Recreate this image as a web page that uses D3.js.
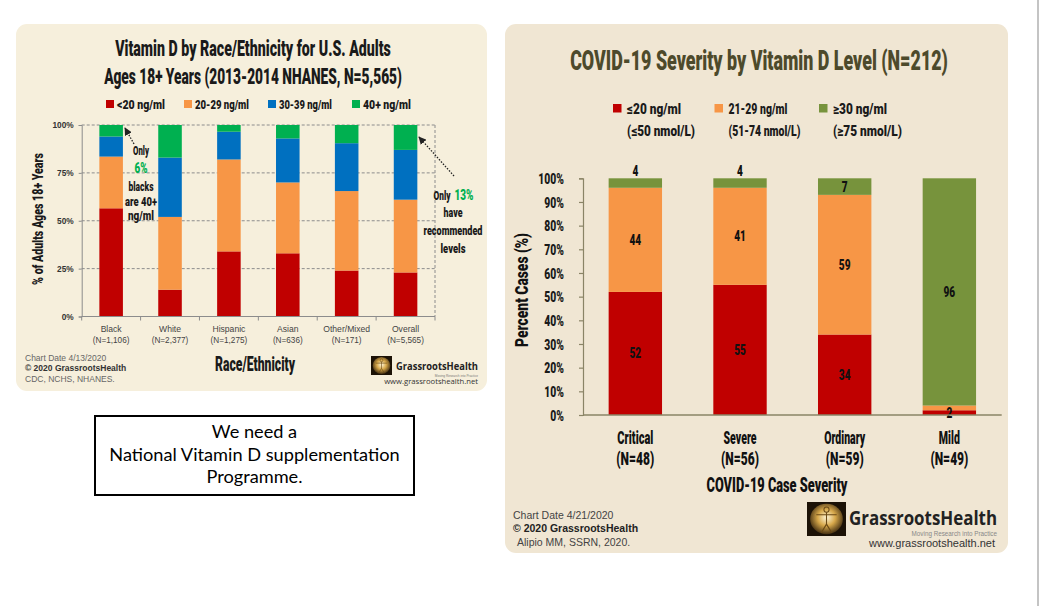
<!DOCTYPE html>
<html><head><meta charset="utf-8">
<script src="https://cdn.jsdelivr.net/npm/d3@7"></script>
<style>
html,body{margin:0;padding:0;background:#fff;}
svg{display:block;}
.cond{font-family:Roboto,"Open Sans",sans-serif;font-weight:900;}
.arial{font-family:"Liberation Sans",Arial,sans-serif;}
</style></head>
<body>
<svg id="c" width="1040" height="606"></svg>
<script>
// ---------- Left chart data ----------
const raceCats = ["Black","White","Hispanic","Asian","Other/Mixed","Overall"];
const raceN = ["(N=1,106)","(N=2,377)","(N=1,275)","(N=636)","(N=171)","(N=5,565)"];
const raceSeriesNames = ["<20 ng/ml","20-29 ng/ml","30-39 ng/ml","40+ ng/ml"];
const raceLt20 =  [56.5, 14, 34, 33, 24, 23];
const race20_29 = [27, 38, 48, 37, 41.5, 38];
const race30_39 = [10.5, 31, 14.5, 23, 25, 26];
const race40p =   [6, 17, 3.5, 7, 9.5, 13];
const raceTicks = [0, 25, 50, 75, 100];
const raceColors = ["#c00000","#f79646","#0070c0","#00b050"];

// ---------- Right chart data ----------
const sevCats = ["Critical","Severe","Ordinary","Mild"];
const sevN = ["(N=48)","(N=56)","(N=59)","(N=49)"];
const sevLe20 = [52, 55, 34, 2];
const sev21_29 = [44, 41, 59, 2];
const sevGe30 = [4, 4, 7, 96];
const sevLegend1 = ["\u226420 ng/ml","21-29 ng/ml","\u226530 ng/ml"];
const sevLegend2 = ["(\u226450 nmol/L)","(51-74 nmol/L)","(\u226575 nmol/L)"];
const sevTicks = [0,10,20,30,40,50,60,70,80,90,100];
const sevColors = ["#c00000","#f79646","#77933c"];

const svg = d3.select("#c");

// condensed-look text: horizontal scale so the text takes a target width
function fit(sel, w, rot){
  const node = sel.node();
  const nat = node.getComputedTextLength();
  const s = w / nat;
  const x = +sel.attr("x") || 0, y = +sel.attr("y") || 0;
  sel.attr("x",0).attr("y",0)
     .attr("transform",`translate(${x},${y})${rot?` rotate(${rot})`:""} scale(${s},1)`);
  return sel;
}
function squeeze(sel, f){
  sel.each(function(){
    const t = d3.select(this);
    const x = +t.attr("x") || 0, y = +t.attr("y") || 0;
    t.attr("x",0).attr("y",0).attr("transform",`translate(${x},${y}) scale(${f},1)`);
  });
  return sel;
}
function ctext(g, x, y, size, txt, anchor, fill){
  return g.append("text").attr("class","cond").attr("x",x).attr("y",y).attr("font-size",size)
    .attr("text-anchor",anchor||"start").attr("fill",fill||"#1a1a1a").text(txt);
}

// thin vertical line at right edge
svg.append("line").attr("x1",1038).attr("x2",1038).attr("y1",0).attr("y2",606)
  .attr("stroke","#c4c4c4").attr("stroke-width",2);

// ================= LEFT PANEL =================
const L = svg.append("g");
L.append("rect").attr("x",16).attr("y",24).attr("width",471).attr("height",367)
  .attr("rx",11).attr("fill","#f6efdc");

fit(ctext(L,253,55.5,22,"Vitamin D by Race/Ethnicity for U.S. Adults","middle"),276);
fit(ctext(L,253,83.5,22,"Ages 18+ Years (2013-2014 NHANES, N=5,565)","middle"),298);

// legend
const legX = [106, 184, 268, 352];
const legW = [48, 54, 53, 48];
raceSeriesNames.forEach((n,i)=>{
  L.append("rect").attr("x",legX[i]).attr("y",100).attr("width",8).attr("height",8).attr("fill",raceColors[i]);
  fit(ctext(L,legX[i]+11,109,13,n),legW[i]);
});

const xL = d3.scaleBand().domain(raceCats).range([81.7,435]).paddingInner(0.6).paddingOuter(0.3);
const yL = d3.scaleLinear().domain([0,100]).range([316.5,125]);

// gridlines
raceTicks.filter(t=>t>0).forEach(t=>{
  L.append("line").attr("x1",81.7).attr("x2",435).attr("y1",yL(t)).attr("y2",yL(t))
    .attr("stroke","#8c8c8c").attr("stroke-width",1).attr("stroke-dasharray","3,2");
});
L.append("line").attr("x1",435).attr("x2",435).attr("y1",yL(100)).attr("y2",yL(0))
  .attr("stroke","#8c8c8c").attr("stroke-width",1).attr("stroke-dasharray","3,2");

// stacked bars
const raceRows = raceCats.map((c,i)=>({cat:c, s0:raceLt20[i], s1:race20_29[i], s2:race30_39[i], s3:race40p[i]}));
const stackL = d3.stack().keys(["s0","s1","s2","s3"])(raceRows);
stackL.forEach((ser,si)=>{
  L.append("g").selectAll("rect").data(ser).join("rect")
    .attr("x",d=>xL(d.data.cat)).attr("width",xL.bandwidth())
    .attr("y",d=>yL(Math.min(d[1],100))).attr("height",d=>yL(d[0])-yL(Math.min(d[1],100)))
    .attr("fill",raceColors[si]);
});

// axes
const yAxL = L.append("g").attr("transform","translate(81.7,0)")
  .call(d3.axisLeft(yL).tickValues(raceTicks).tickFormat(d=>d+"%").tickSize(3).tickPadding(5));
yAxL.select(".domain").attr("stroke","#8c8c8c");
yAxL.selectAll(".tick line").attr("stroke","#8c8c8c");
yAxL.selectAll("text").attr("font-family","Liberation Sans, Arial, sans-serif").attr("font-weight","bold")
  .attr("font-size",8.3).attr("fill","#333");

const xAxL = L.append("g").attr("transform","translate(0,316.5)");
xAxL.append("line").attr("x1",81.7).attr("x2",435).attr("y1",0).attr("y2",0).attr("stroke","#8c8c8c").attr("stroke-width",1.2);
const bL = raceCats.map(c=>xL(c)-xL.step()*xL.paddingInner()/2).concat([435]);
bL[0]=81.7;
bL.forEach(b=>xAxL.append("line").attr("x1",b).attr("x2",b).attr("y1",0).attr("y2",4).attr("stroke","#8c8c8c"));
raceCats.forEach((c,i)=>{
  const cx = xL(c)+xL.bandwidth()/2;
  xAxL.append("text").attr("class","arial").attr("x",cx).attr("y",15.5).attr("text-anchor","middle")
    .attr("font-size",8.6).attr("fill","#444").text(c);
  xAxL.append("text").attr("class","arial").attr("x",cx).attr("y",26.5).attr("text-anchor","middle")
    .attr("font-size",8.2).attr("fill","#444").text(raceN[i]);
});

fit(ctext(L,43,219,15.5,"% of Adults Ages 18+ Years","middle"),132,-90);

fit(ctext(L,255,370.5,19.5,"Race/Ethnicity","middle"),80);

// annotations
fit(ctext(L,141,154.5,12.5,"Only","middle"),16);
fit(ctext(L,141,172.5,15,"6%","middle","#00b050"),13);
fit(ctext(L,141,190.5,12.5,"blacks","middle"),25);
fit(ctext(L,141,205.5,12.5,"are 40+","middle"),32);
fit(ctext(L,141,219.5,12.5,"ng/ml","middle"),26);

fit(ctext(L,433.5,199.5,12.5,"Only"),17);
fit(ctext(L,454.5,199.5,15,"13%","start","#00b050"),19);
fit(ctext(L,453,217,12.5,"have","middle"),19);
fit(ctext(L,453,235,12.5,"recommended","middle"),59);
fit(ctext(L,453,252.5,12.5,"levels","middle"),25);

const defs = svg.append("defs");
defs.append("marker").attr("id","ah").attr("viewBox","0 0 10 10").attr("refX",9).attr("refY",5)
  .attr("markerWidth",6).attr("markerHeight",6).attr("orient","auto")
  .append("path").attr("d","M0,0 L10,5 L0,10 z").attr("fill","#222");
L.append("line").attr("x1",134).attr("y1",144).attr("x2",125).attr("y2",128)
  .attr("stroke","#222").attr("stroke-width",1.3).attr("stroke-dasharray","1.5,1.5").attr("marker-end","url(#ah)");
L.append("line").attr("x1",454).attr("y1",176).attr("x2",419).attr("y2",137)
  .attr("stroke","#222").attr("stroke-width",1.3).attr("stroke-dasharray","1.5,1.5").attr("marker-end","url(#ah)");

// footer left
[["Chart Date 4/13/2020","normal"],["\u00a9 2020 GrassrootsHealth","bold"],["CDC, NCHS, NHANES.","normal"]].forEach((f,i)=>
  L.append("text").attr("class","arial").attr("x",25).attr("y",361+i*10.3).attr("font-size",8.5)
   .attr("font-weight",f[1]).attr("fill",f[1]==="bold"?"#333":"#666").text(f[0]));

// logo helper
const grad = defs.append("radialGradient").attr("id","lg").attr("cx","50%").attr("cy","45%").attr("r","60%");
grad.append("stop").attr("offset","0%").attr("stop-color","#fff6d8");
grad.append("stop").attr("offset","45%").attr("stop-color","#d7a84a");
grad.append("stop").attr("offset","100%").attr("stop-color","#2a1a08");
function logo(g, x, y, w, h){
  g.append("rect").attr("x",x).attr("y",y).attr("width",w).attr("height",h).attr("fill","#1c1206");
  g.append("ellipse").attr("cx",x+w/2).attr("cy",y+h/2).attr("rx",w*0.42).attr("ry",h*0.45).attr("fill","url(#lg)");
  const cx=x+w/2, s=h/40;
  g.append("circle").attr("cx",cx).attr("cy",y+9*s).attr("r",3*s).attr("fill","none").attr("stroke","#6b4a16").attr("stroke-width",1.2*s);
  g.append("path").attr("d",`M${cx},${y+12*s} L${cx},${y+26*s} M${cx-12*s},${y+15*s} L${cx+12*s},${y+15*s} M${cx},${y+26*s} L${cx-6*s},${y+36*s} M${cx},${y+26*s} L${cx+6*s},${y+36*s}`)
    .attr("stroke","#6b4a16").attr("stroke-width",1.3*s).attr("fill","none");
}
function brand(g, x, y, size, w, txt, family, weight, fill){
  const t = g.append("text").attr("x",x).attr("y",y).attr("text-anchor","end").attr("font-family",family)
    .attr("font-weight",weight).attr("font-size",size).attr("fill",fill).text(txt);
  return fit(t, w);
}
logo(L, 371, 356, 21, 19);
brand(L,478,369.5,10.5,82,"GrassrootsHealth","Open Sans, Liberation Sans, sans-serif","bold","#222");
L.append("text").attr("class","arial").attr("x",478).attr("y",376.8).attr("text-anchor","end").attr("font-size",3.2).attr("fill","#777").text("Moving Research into Practice");
brand(L,478,384,8,94,"www.grassrootshealth.net","Open Sans, Liberation Sans, sans-serif","normal","#333");

// ================= TEXT BOX =================
svg.append("rect").attr("x",95).attr("y",416).attr("width",319).attr("height",79)
  .attr("fill","#fff").attr("stroke","#000").attr("stroke-width",2);
["We need a","National Vitamin D supplementation","Programme."].forEach((s,i)=>
  svg.append("text").attr("x",254.5).attr("y",438+i*22.6).attr("text-anchor","middle")
    .attr("font-family","Lato, Open Sans, sans-serif").attr("font-size",18.2).attr("fill","#000").text(s));

// ================= RIGHT PANEL =================
const R = svg.append("g");
R.append("rect").attr("x",505).attr("y",24).attr("width",503).attr("height",529)
  .attr("rx",11).attr("fill","#f0e6d3");

fit(ctext(R,759,70,28,"COVID-19 Severity by Vitamin D Level (N=212)","middle","#4d4a2b"),378);

const legRX = [613, 714.5, 819];
const legW1 = [54, 59, 54], legW2 = [68, 72, 69];
sevLegend1.forEach((n,i)=>{
  R.append("rect").attr("x",legRX[i]).attr("y",104).attr("width",8.5).attr("height",8.5).attr("fill",sevColors[i]);
  fit(ctext(R,legRX[i]+14,113.5,14.5,n),legW1[i]);
  fit(ctext(R,legRX[i]+14,135.5,14.5,sevLegend2[i]),legW2[i]);
});

const xR = d3.scaleBand().domain(sevCats).range([583,1001.7]).paddingInner(0.49).paddingOuter(0.245);
const yR = d3.scaleLinear().domain([0,100]).range([415,178.3]);

const sevRows = sevCats.map((c,i)=>({cat:c, s0:sevLe20[i], s1:sev21_29[i], s2:sevGe30[i]}));
const stackR = d3.stack().keys(["s0","s1","s2"])(sevRows);
stackR.forEach((ser,si)=>{
  R.append("g").selectAll("rect").data(ser).join("rect")
    .attr("x",d=>xR(d.data.cat)).attr("width",xR.bandwidth())
    .attr("y",d=>yR(Math.min(d[1],100))).attr("height",d=>yR(d[0])-yR(Math.min(d[1],100)))
    .attr("fill",sevColors[si]);
});
// data labels
stackR.forEach((ser,si)=>{
  ser.forEach(d=>{
    const v = d[1]-d[0];
    const cx = xR(d.data.cat)+xR.bandwidth()/2;
    if(d.data.cat==="Mild" && si===1) return; // single "2" label shown at the base
    let y;
    if(si===2 && v<=5) y = yR(100)-2.5;           // small top segment: label above bar
    else y = yR((d[0]+d[1])/2)+5;
    squeeze(ctext(R,cx,y,14,String(Math.round(v)),"middle","#111"),0.72);
  });
});

const yAxR = R.append("g").attr("transform","translate(583,0)")
  .call(d3.axisLeft(yR).tickValues(sevTicks).tickFormat(d=>d+"%").tickSize(4).tickPadding(15));
yAxR.selectAll(".domain,.tick line").attr("stroke","#8a8466").attr("stroke-width",1.2);
yAxR.selectAll("text").attr("class","cond").attr("font-size",14).attr("fill","#1a1a1a").attr("dy","0.36em");
squeeze(yAxR.selectAll("text"),0.74);

R.append("line").attr("x1",583).attr("x2",1001.7).attr("y1",415).attr("y2",415).attr("stroke","#8a8466").attr("stroke-width",1.5);

const xLabW = [36, 33, 41, 21];
sevCats.forEach((c,i)=>{
  const cx = xR(c)+xR.bandwidth()/2;
  fit(ctext(R,cx,443.5,17.5,c,"middle","#111"),xLabW[i]);
  fit(ctext(R,cx,464.5,17.5,sevN[i],"middle","#111"),38);
});
fit(ctext(R,777,491.5,20.5,"COVID-19 Case Severity","middle","#111"),141);
fit(ctext(R,528,290,19,"Percent Cases (%)","middle","#111"),114,-90);

[["Chart Date 4/21/2020","normal",513],["\u00a9 2020 GrassrootsHealth","bold",513],["Alipio MM, SSRN, 2020.","normal",517]].forEach((f,i)=>
  R.append("text").attr("class","arial").attr("x",f[2]).attr("y",519+i*13.3).attr("font-size",10.5)
   .attr("font-weight",f[1]).attr("fill",f[1]==="bold"?"#222":"#444").text(f[0]));

logo(R, 807, 502, 39, 34);
brand(R,997,524.5,19,148,"GrassrootsHealth","Open Sans, Liberation Sans, sans-serif","bold","#222");
R.append("text").attr("class","arial").attr("x",997).attr("y",535.5).attr("text-anchor","end").attr("font-size",6.3).attr("fill","#888").text("Moving Research into Practice");
R.append("text").attr("x",995).attr("y",546.5).attr("text-anchor","end").attr("font-family","Liberation Sans, Arial, sans-serif")
  .attr("font-size",11).attr("fill","#333").text("www.grassrootshealth.net");
</script>
</body></html>
